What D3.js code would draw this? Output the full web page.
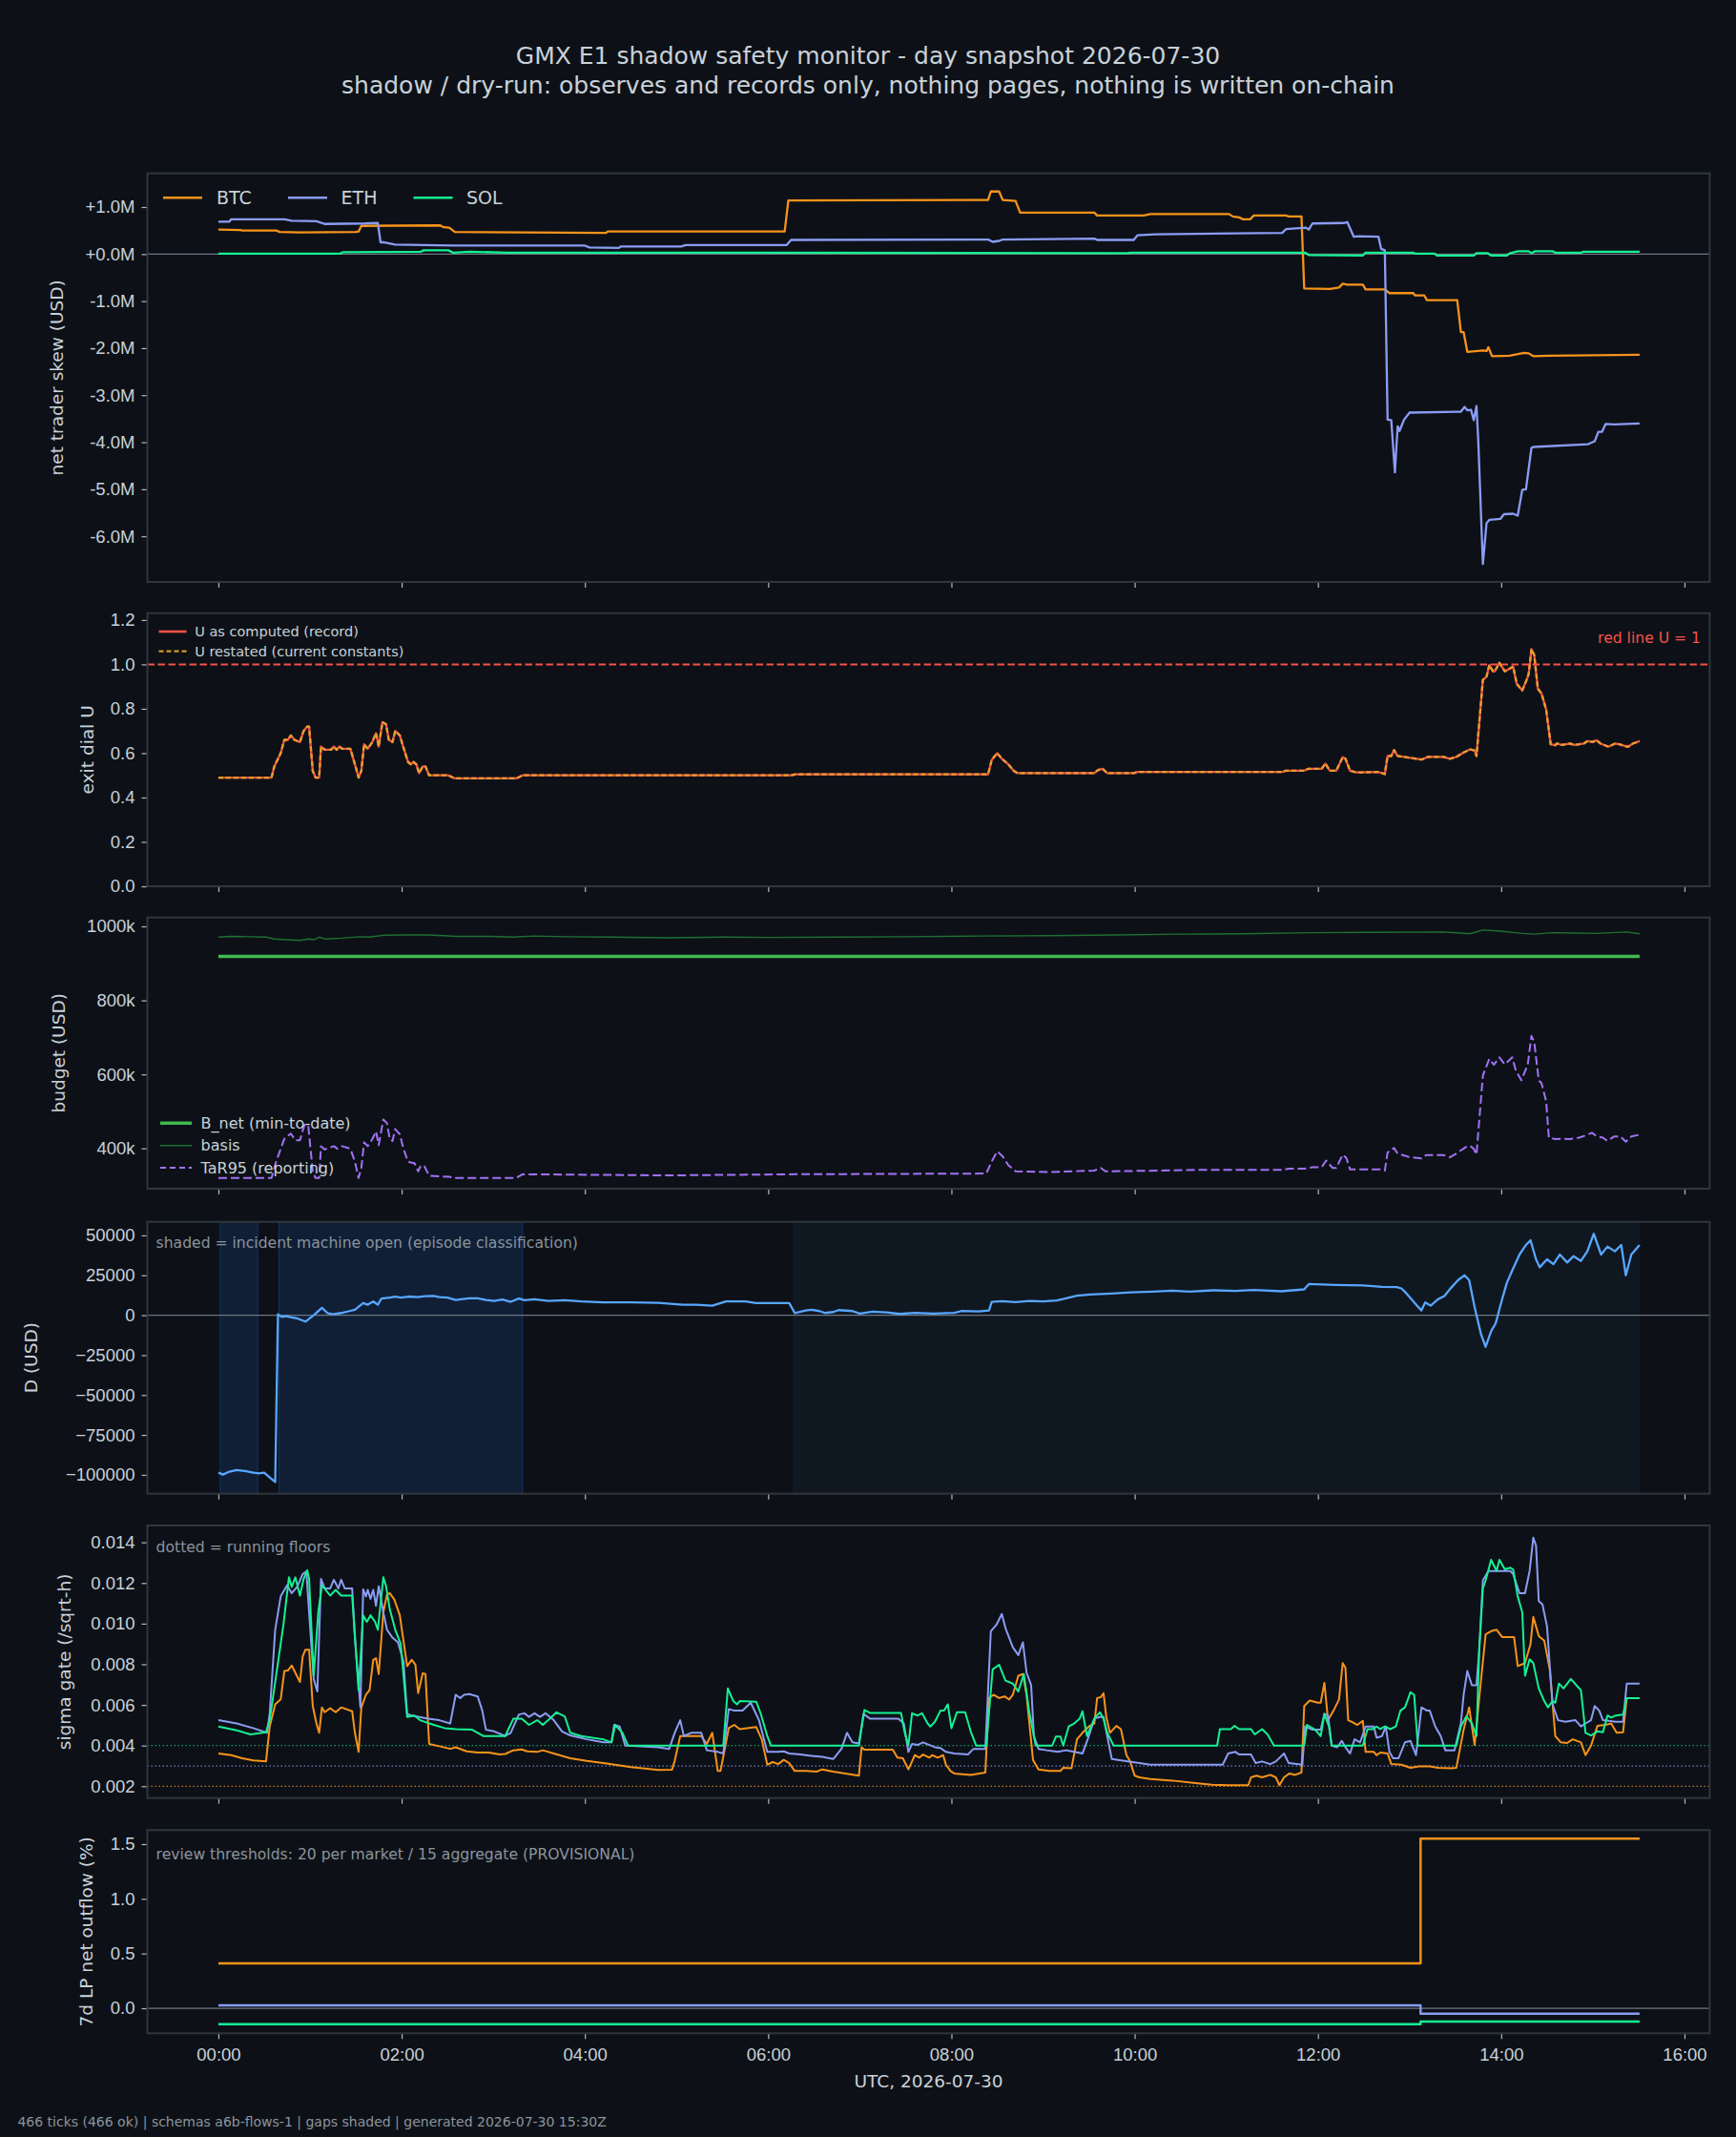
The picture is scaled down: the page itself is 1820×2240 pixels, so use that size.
<!DOCTYPE html>
<html>
<head>
<meta charset="utf-8">
<script src="https://cdn.jsdelivr.net/npm/d3@7"></script>
<style>
  html, body { margin: 0; padding: 0; background: #0d1117; }
  svg { display: block; font-family: "DejaVu Sans", sans-serif; }
</style>
</head>
<body>
<svg id="chart" width="1820" height="2240"></svg>
<script>
// ---- data (time in hours since 00:00 UTC) ----

// panel 1: net trader skew, millions USD
const skewBtc = [[0,0.52],[0.24,0.51],[0.26,0.50],[0.63,0.50],[0.67,0.47],[0.89,0.46],[1.50,0.47],[1.53,0.48],[1.56,0.60],[2.42,0.61],[2.46,0.57],[2.52,0.56],[2.58,0.47],[4.23,0.45],[4.25,0.48],[5.6,0.48],[6.18,0.48],[6.22,1.14],[8.40,1.15],[8.43,1.33],[8.52,1.33],[8.56,1.15],[8.70,1.13],[8.75,0.88],[9.56,0.88],[9.59,0.82],[10.10,0.82],[10.17,0.85],[11.03,0.85],[11.07,0.80],[11.14,0.78],[11.18,0.74],[11.26,0.74],[11.30,0.82],[11.65,0.82],[11.68,0.80],[11.82,0.80],[11.85,-0.73],[12.13,-0.74],[12.23,-0.71],[12.27,-0.63],[12.32,-0.65],[12.49,-0.65],[12.52,-0.75],[12.73,-0.75],[12.78,-0.83],[13.04,-0.83],[13.06,-0.88],[13.16,-0.88],[13.19,-0.98],[13.52,-0.98],[13.56,-1.66],[13.59,-1.66],[13.63,-2.08],[13.80,-2.05],[13.84,-2.06],[13.86,-1.98],[13.90,-2.17],[14.09,-2.16],[14.25,-2.10],[14.30,-2.11],[14.35,-2.17],[14.52,-2.16],[15.51,-2.14]];
const skewEth = [[0,0.69],[0.12,0.69],[0.14,0.74],[0.72,0.74],[0.80,0.71],[1.07,0.70],[1.16,0.64],[1.60,0.65],[1.74,0.66],[1.77,0.25],[1.80,0.25],[1.93,0.20],[2.56,0.18],[4.00,0.18],[4.05,0.14],[4.37,0.13],[4.39,0.16],[5.05,0.16],[5.10,0.19],[6.20,0.19],[6.25,0.30],[8.40,0.31],[8.45,0.26],[8.52,0.28],[8.56,0.31],[9.56,0.33],[9.59,0.30],[9.99,0.30],[10.03,0.40],[10.22,0.42],[11.61,0.45],[11.65,0.53],[11.87,0.56],[11.90,0.52],[11.94,0.65],[12.28,0.66],[12.32,0.68],[12.39,0.37],[12.44,0.38],[12.66,0.37],[12.69,0.11],[12.73,0.08],[12.76,-3.52],[12.80,-3.53],[12.84,-4.64],[12.87,-3.66],[12.89,-3.76],[12.94,-3.52],[13.00,-3.37],[13.56,-3.35],[13.60,-3.25],[13.63,-3.32],[13.67,-3.31],[13.70,-3.53],[13.73,-3.23],[13.75,-3.99],[13.80,-6.59],[13.84,-5.72],[13.87,-5.65],[13.99,-5.63],[14.03,-5.53],[14.13,-5.52],[14.18,-5.56],[14.23,-5.01],[14.27,-5.00],[14.33,-4.12],[14.35,-4.10],[14.95,-4.04],[15.02,-3.98],[15.06,-3.78],[15.10,-3.78],[15.14,-3.61],[15.23,-3.62],[15.51,-3.60]];
const skewSol = [[0,0.01],[1.33,0.01],[1.36,0.04],[2.21,0.05],[2.24,0.08],[2.51,0.08],[2.56,0.03],[2.74,0.05],[3.16,0.03],[6.0,0.03],[9.92,0.02],[9.95,0.03],[11.86,0.03],[11.90,-0.02],[12.49,-0.03],[12.52,0.03],[13.04,0.03],[13.06,0.01],[13.27,0.01],[13.30,-0.03],[13.70,-0.03],[13.73,0.02],[13.85,0.02],[13.89,-0.03],[14.06,-0.03],[14.10,0.02],[14.18,0.06],[14.30,0.06],[14.33,0.02],[14.37,0.06],[14.56,0.06],[14.59,0.03],[14.87,0.03],[14.90,0.05],[15.51,0.05]];

// panel 2: exit dial U
const uRecord = [[0,0.49],[0.58,0.49],[0.61,0.54],[0.68,0.60],[0.72,0.66],[0.76,0.66],[0.79,0.68],[0.83,0.66],[0.89,0.65],[0.93,0.70],[0.97,0.72],[0.99,0.72],[1.03,0.52],[1.06,0.49],[1.10,0.49],[1.12,0.63],[1.16,0.615],[1.23,0.615],[1.26,0.63],[1.29,0.615],[1.32,0.63],[1.35,0.62],[1.44,0.62],[1.49,0.55],[1.53,0.49],[1.56,0.52],[1.59,0.64],[1.63,0.62],[1.68,0.65],[1.72,0.69],[1.75,0.63],[1.79,0.74],[1.83,0.73],[1.86,0.66],[1.90,0.65],[1.93,0.70],[1.98,0.68],[2.02,0.625],[2.07,0.56],[2.10,0.55],[2.13,0.56],[2.16,0.55],[2.19,0.51],[2.23,0.54],[2.26,0.54],[2.30,0.50],[2.51,0.50],[2.58,0.486],[3.25,0.486],[3.32,0.50],[6.25,0.50],[6.30,0.505],[8.40,0.505],[8.44,0.57],[8.50,0.60],[8.55,0.575],[8.62,0.55],[8.68,0.52],[8.72,0.51],[9.56,0.51],[9.60,0.524],[9.65,0.529],[9.70,0.51],[9.99,0.51],[10.03,0.515],[11.61,0.515],[11.65,0.521],[11.85,0.521],[11.89,0.529],[12.04,0.529],[12.08,0.553],[12.13,0.521],[12.20,0.521],[12.27,0.582],[12.30,0.575],[12.35,0.521],[12.42,0.513],[12.66,0.515],[12.73,0.506],[12.76,0.587],[12.80,0.587],[12.83,0.614],[12.87,0.587],[12.99,0.58],[13.13,0.571],[13.20,0.583],[13.37,0.583],[13.44,0.575],[13.51,0.583],[13.59,0.603],[13.66,0.617],[13.71,0.612],[13.73,0.587],[13.80,0.93],[13.84,0.945],[13.87,0.997],[13.91,0.969],[13.93,0.969],[13.98,1.007],[14.04,0.969],[14.13,0.99],[14.17,0.912],[14.23,0.883],[14.28,0.933],[14.30,0.957],[14.33,1.069],[14.36,1.043],[14.40,0.89],[14.44,0.869],[14.49,0.797],[14.54,0.64],[14.59,0.636],[14.61,0.644],[14.66,0.637],[14.75,0.643],[14.80,0.637],[14.90,0.643],[14.94,0.654],[15.0,0.651],[15.04,0.658],[15.08,0.644],[15.17,0.629],[15.24,0.643],[15.29,0.64],[15.38,0.628],[15.44,0.644],[15.51,0.654]];
const uRestated = uRecord.map(d => [d[0], d[1]]);
const redLine = 1.0;

// panel 3: budget, thousands USD
const bNet = [[0,919],[15.51,919]];
const basis = [[0,971],[0.14,973],[0.33,972],[0.52,971],[0.61,966],[0.75,964],[0.89,962],[0.98,966],[1.05,964],[1.10,971],[1.16,966],[1.35,968],[1.54,972],[1.65,971],[1.81,976],[2.05,977],[2.28,977],[2.45,975],[2.60,973],[2.97,973],[3.21,971],[3.44,974],[3.8,972],[4.3,971],[4.91,969],[5.5,971],[6.0,970],[6.8,971],[7.5,972],[8.3,974],[9.07,975],[9.8,977],[10.51,979],[11.2,980],[11.94,983],[12.6,984],[13.37,985],[13.66,980],[13.80,990],[13.99,987],[14.23,981],[14.37,979],[14.56,983],[14.8,982],[15.04,981],[15.2,983],[15.37,985],[15.51,980]];
const tar95 = [[0,320],[0.58,320],[0.63,364],[0.72,426],[0.79,440],[0.84,422],[0.89,422],[0.94,464],[0.98,463],[1.03,338],[1.06,320],[1.10,320],[1.12,406],[1.16,397],[1.26,406],[1.30,399],[1.35,406],[1.44,399],[1.49,364],[1.53,320],[1.56,347],[1.59,416],[1.63,406],[1.68,425],[1.72,446],[1.75,409],[1.80,478],[1.84,468],[1.87,425],[1.90,420],[1.93,452],[1.98,438],[2.02,399],[2.07,364],[2.10,362],[2.14,360],[2.18,338],[2.21,354],[2.25,351],[2.30,326],[2.52,323],[2.58,320],[3.25,320],[3.32,330],[4.91,327],[6.3,330],[8.38,332],[8.44,365],[8.50,392],[8.56,378],[8.62,355],[8.70,338],[9.07,336],[9.56,340],[9.63,347],[9.68,338],[9.99,339],[10.75,342],[11.61,342],[11.68,345],[11.85,345],[11.94,349],[12.04,349],[12.09,367],[12.16,347],[12.20,347],[12.27,383],[12.31,374],[12.35,343],[12.68,343],[12.73,340],[12.76,389],[12.83,401],[12.87,386],[12.99,377],[13.13,373],[13.18,382],[13.37,382],[13.44,376],[13.51,386],[13.61,403],[13.66,407],[13.70,399],[13.73,383],[13.80,597],[13.87,642],[13.92,626],[13.98,646],[14.04,627],[14.12,646],[14.16,610],[14.22,584],[14.29,627],[14.33,704],[14.36,688],[14.41,584],[14.44,576],[14.49,528],[14.52,429],[14.59,425],[14.66,426],[14.75,425],[14.85,429],[14.92,435],[14.99,442],[15.04,433],[15.11,429],[15.16,420],[15.23,432],[15.30,432],[15.36,418],[15.42,432],[15.51,437]];

// panel 4: D, thousands USD, plus incident episodes
const dUsdK = [[0,-98.6],[0.05,-99.8],[0.11,-98.2],[0.20,-97.0],[0.29,-97.6],[0.38,-98.6],[0.44,-99.0],[0.50,-98.6],[0.56,-101.6],[0.62,-104.5],[0.65,0.6],[0.69,-1.0],[0.74,-0.6],[0.80,-1.4],[0.86,-2.0],[0.95,-4.0],[1.04,0],[1.13,4.6],[1.19,1.4],[1.25,0.6],[1.34,1.4],[1.43,2.6],[1.49,3.4],[1.58,7.6],[1.63,6.6],[1.69,8.6],[1.74,6.6],[1.78,10.5],[1.87,11.0],[1.93,11.7],[1.99,11.0],[2.08,11.7],[2.17,11.3],[2.26,11.9],[2.35,12.1],[2.41,11.3],[2.50,11.0],[2.59,9.6],[2.65,10.0],[2.74,10.6],[2.83,10.6],[2.92,9.6],[3.01,9.0],[3.10,9.8],[3.19,8.4],[3.28,10.4],[3.34,9.4],[3.45,10.0],[3.60,9.0],[3.78,9.4],[3.96,8.6],[4.20,8.0],[4.50,8.0],[4.80,7.8],[5.07,6.6],[5.21,6.6],[5.39,6.0],[5.54,8.6],[5.75,8.6],[5.87,7.6],[6.23,7.6],[6.29,1.4],[6.41,3.0],[6.47,3.4],[6.56,2.6],[6.62,1.4],[6.71,2.0],[6.77,3.2],[6.92,2.6],[7.0,1.0],[7.14,2.2],[7.29,1.8],[7.44,0.8],[7.6,1.5],[7.8,1.0],[8.03,1.5],[8.11,2.6],[8.30,2.4],[8.41,3.0],[8.44,8.4],[8.55,8.8],[8.70,8.2],[8.85,9.0],[9.00,8.6],[9.15,9.2],[9.22,10.1],[9.37,12.2],[9.52,13.0],[9.75,13.6],[9.96,14.3],[10.2,14.8],[10.41,15.4],[10.6,14.8],[10.86,15.6],[11.1,15.2],[11.30,15.8],[11.60,15.0],[11.85,16.2],[11.90,19.5],[12.19,19.0],[12.49,18.6],[12.70,17.8],[12.86,17.6],[12.91,16.8],[12.96,14.0],[13.02,10.0],[13.08,6.0],[13.13,3.0],[13.17,8.0],[13.23,6.0],[13.31,10.0],[13.38,12.0],[13.45,17.0],[13.53,22.0],[13.60,25.0],[13.65,22.0],[13.71,5.0],[13.78,-12.0],[13.83,-19.8],[13.89,-10.0],[13.94,-5.0],[14.00,8.0],[14.06,20.0],[14.12,28.0],[14.20,38.0],[14.27,44.0],[14.32,47.0],[14.38,35.0],[14.42,30.0],[14.50,35.0],[14.57,32.0],[14.64,38.0],[14.72,33.0],[14.79,37.0],[14.87,34.0],[14.94,40.0],[15.01,51.0],[15.09,38.0],[15.16,43.0],[15.24,40.0],[15.31,44.0],[15.36,25.0],[15.42,38.0],[15.51,44.0]];
const incidentSpans = [[0.02,0.43],[0.66,3.32]];
const quietSpans = [[6.28,15.5]];

// panel 5: sigma gate, in units of 1e-3 /sqrt-h
const sigmaBtc = [[0,3.61],[0.14,3.53],[0.26,3.38],[0.38,3.27],[0.52,3.22],[0.56,4.94],[0.62,6.03],[0.68,6.27],[0.72,7.67],[0.76,7.70],[0.80,7.94],[0.89,7.13],[0.92,8.38],[0.95,8.72],[0.99,8.72],[1.03,5.95],[1.07,5.09],[1.10,4.63],[1.13,5.88],[1.16,5.64],[1.22,5.84],[1.28,5.64],[1.34,5.88],[1.46,5.69],[1.49,4.63],[1.53,3.69],[1.56,5.88],[1.61,6.5],[1.65,6.73],[1.69,8.22],[1.72,8.30],[1.75,7.52],[1.80,10.56],[1.84,11.42],[1.87,11.5],[1.92,11.19],[1.98,10.41],[2.02,9.16],[2.06,7.91],[2.11,8.22],[2.15,7.98],[2.18,6.58],[2.23,7.56],[2.26,7.52],[2.30,4.08],[2.41,3.97],[2.53,3.84],[2.59,3.92],[2.71,3.72],[2.83,3.66],[2.95,3.66],[3.07,3.56],[3.13,3.59],[3.22,3.77],[3.31,3.81],[3.37,3.72],[3.48,3.69],[3.54,3.77],[3.66,3.61],[3.84,3.38],[4.02,3.25],[4.20,3.14],[4.38,3.03],[4.50,2.94],[4.68,2.86],[4.80,2.80],[4.95,2.81],[4.98,3.25],[5.04,4.47],[5.27,4.47],[5.33,4.08],[5.39,4.63],[5.45,2.75],[5.48,2.75],[5.53,3.92],[5.57,4.86],[5.63,5.02],[5.69,4.81],[5.87,4.91],[5.93,4.31],[5.99,3.06],[6.05,3.19],[6.11,3.09],[6.17,3.30],[6.23,3.14],[6.29,2.75],[6.41,2.75],[6.53,2.72],[6.59,2.83],[6.71,2.72],[6.99,2.52],[7.02,3.92],[7.05,3.80],[7.36,3.80],[7.41,3.41],[7.47,3.38],[7.53,2.83],[7.57,3.22],[7.60,3.53],[7.65,3.41],[7.69,3.56],[7.76,3.41],[7.79,3.53],[7.85,3.41],[7.91,3.53],[7.94,3.06],[7.99,2.75],[8.03,2.63],[8.21,2.56],[8.37,2.67],[8.41,6.34],[8.46,6.5],[8.52,6.34],[8.58,6.42],[8.63,6.27],[8.67,6.5],[8.73,7.44],[8.78,7.52],[8.82,6.5],[8.89,3.30],[8.95,2.83],[9.07,2.75],[9.19,2.75],[9.22,2.91],[9.31,2.88],[9.37,4.31],[9.43,4.63],[9.50,4.94],[9.56,5.09],[9.59,6.34],[9.63,6.38],[9.66,6.58],[9.69,5.41],[9.73,4.63],[9.80,4.97],[9.85,4.81],[9.91,3.53],[9.95,3.22],[10.00,2.52],[10.05,2.44],[10.17,2.36],[10.41,2.28],[10.66,2.16],[10.84,2.08],[11.02,2.05],[11.24,2.05],[11.27,2.44],[11.33,2.52],[11.39,2.44],[11.48,2.56],[11.54,2.44],[11.58,2.05],[11.63,2.44],[11.69,2.63],[11.75,2.56],[11.82,2.67],[11.85,5.95],[11.91,6.22],[12.00,6.11],[12.03,6.11],[12.07,7.09],[12.11,5.25],[12.17,5.72],[12.23,6.27],[12.27,8.06],[12.30,7.83],[12.33,5.25],[12.37,5.17],[12.43,5.02],[12.49,5.22],[12.52,3.69],[12.61,3.69],[12.64,3.53],[12.68,3.66],[12.76,3.61],[12.80,3.09],[12.91,3.06],[13.01,2.91],[13.10,2.98],[13.22,2.98],[13.31,2.91],[13.46,2.88],[13.51,2.91],[13.59,4.78],[13.65,5.88],[13.71,4.03],[13.76,6.34],[13.83,9.47],[13.89,9.63],[13.95,9.70],[14.01,9.34],[14.14,9.34],[14.18,7.91],[14.26,8.06],[14.32,9.0],[14.35,10.33],[14.41,9.39],[14.47,9.16],[14.53,7.75],[14.59,4.47],[14.65,4.16],[14.72,4.13],[14.78,4.31],[14.87,4.16],[14.92,3.53],[14.98,4.0],[15.05,4.97],[15.14,5.02],[15.20,5.09],[15.26,4.63],[15.33,4.66],[15.37,6.34],[15.51,6.34]];
const sigmaEth = [[0,5.25],[0.20,5.09],[0.38,4.86],[0.53,4.63],[0.56,5.56],[0.62,9.70],[0.68,11.34],[0.75,11.89],[0.80,11.5],[0.86,11.81],[0.92,12.44],[0.96,12.56],[0.99,10.56],[1.04,7.28],[1.08,6.66],[1.12,12.2],[1.16,11.73],[1.22,11.73],[1.26,12.16],[1.31,11.73],[1.34,12.16],[1.38,11.73],[1.46,11.73],[1.49,9.31],[1.55,5.88],[1.58,11.69],[1.61,11.34],[1.63,11.66],[1.66,11.22],[1.69,11.66],[1.72,10.88],[1.75,11.84],[1.80,10.56],[1.84,9.70],[1.90,9.31],[1.96,9.08],[2.02,8.14],[2.06,5.56],[2.11,5.48],[2.29,5.33],[2.41,5.25],[2.53,5.09],[2.59,6.5],[2.64,6.34],[2.68,6.5],[2.74,6.53],[2.83,6.42],[2.88,5.72],[2.92,4.78],[3.01,4.70],[3.13,4.47],[3.19,4.63],[3.28,5.53],[3.34,5.59],[3.39,5.41],[3.45,5.59],[3.51,5.41],[3.57,5.59],[3.66,5.25],[3.75,4.70],[3.84,4.5],[4.02,4.31],[4.20,4.16],[4.29,4.16],[4.32,5.02],[4.38,4.94],[4.44,4.0],[4.56,3.97],[4.80,3.92],[4.92,3.84],[4.98,4.63],[5.04,5.25],[5.08,4.47],[5.16,4.63],[5.27,4.63],[5.33,3.77],[5.45,3.69],[5.51,3.61],[5.57,5.80],[5.63,5.72],[5.72,5.72],[5.81,6.11],[5.90,5.25],[5.99,3.69],[6.11,3.69],[6.17,3.72],[6.23,3.61],[6.35,3.56],[6.47,3.5],[6.59,3.45],[6.71,3.34],[6.80,3.84],[6.86,4.63],[6.92,4.16],[6.99,4.10],[7.04,5.56],[7.11,5.33],[7.42,5.33],[7.48,5.09],[7.53,3.69],[7.57,4.08],[7.63,4.03],[7.69,4.16],[7.76,4.03],[7.82,3.92],[7.88,3.88],[7.94,3.69],[8.03,3.61],[8.18,3.56],[8.24,3.84],[8.37,3.84],[8.43,9.63],[8.49,9.94],[8.55,10.48],[8.59,9.78],[8.67,8.84],[8.73,8.45],[8.78,9.08],[8.82,7.59],[8.87,6.97],[8.90,4.47],[8.95,3.84],[9.04,3.77],[9.16,3.69],[9.25,3.77],[9.34,3.69],[9.43,3.61],[9.50,4.47],[9.56,5.33],[9.62,5.41],[9.66,5.41],[9.70,4.47],[9.75,3.34],[9.92,3.22],[10.05,3.14],[10.17,3.06],[10.96,3.06],[11.02,3.61],[11.10,3.69],[11.14,3.56],[11.27,3.56],[11.32,3.14],[11.39,3.22],[11.48,3.09],[11.54,3.22],[11.63,3.61],[11.68,3.14],[11.83,3.06],[11.86,4.94],[11.94,4.78],[12.03,4.78],[12.07,5.56],[12.11,5.48],[12.15,4.0],[12.21,3.92],[12.26,4.23],[12.30,3.92],[12.35,3.61],[12.40,4.31],[12.46,4.16],[12.52,4.94],[12.61,4.94],[12.64,4.39],[12.70,4.47],[12.74,4.94],[12.78,3.69],[12.82,3.38],[12.88,3.38],[12.95,4.16],[13.01,4.23],[13.07,3.53],[13.13,5.88],[13.19,5.72],[13.22,5.72],[13.28,4.94],[13.34,4.47],[13.39,3.77],[13.49,3.77],[13.56,5.09],[13.59,6.5],[13.63,7.67],[13.68,6.97],[13.73,6.97],[13.76,8.69],[13.80,12.13],[13.86,12.59],[14.10,12.59],[14.13,12.44],[14.20,11.5],[14.26,11.5],[14.31,12.59],[14.35,14.23],[14.38,13.84],[14.41,11.11],[14.45,10.95],[14.50,9.86],[14.56,6.03],[14.62,5.25],[14.70,5.17],[14.81,5.25],[14.87,4.94],[14.92,5.09],[14.98,5.25],[15.02,5.95],[15.07,5.72],[15.11,5.25],[15.25,5.17],[15.33,5.17],[15.37,7.05],[15.51,7.05]];
const sigmaSol = [[0,4.94],[0.20,4.75],[0.35,4.55],[0.52,4.66],[0.56,5.25],[0.71,9.94],[0.77,12.28],[0.80,11.81],[0.84,12.28],[0.89,11.38],[0.93,12.2],[0.97,12.63],[0.99,12.2],[1.04,7.44],[1.09,10.56],[1.13,11.89],[1.22,11.38],[1.28,11.66],[1.34,11.38],[1.46,11.38],[1.53,6.73],[1.58,10.41],[1.62,10.09],[1.66,10.41],[1.71,10.09],[1.74,9.70],[1.80,12.28],[1.83,11.84],[1.87,10.72],[1.93,9.70],[1.99,9.0],[2.06,5.41],[2.14,5.48],[2.20,5.25],[2.35,5.02],[2.47,4.86],[2.59,4.81],[2.77,4.78],[2.83,4.63],[2.89,4.47],[3.13,4.47],[3.22,5.33],[3.31,5.33],[3.39,5.02],[3.48,5.25],[3.54,5.02],[3.60,5.25],[3.69,5.64],[3.78,5.44],[3.84,4.63],[3.96,4.47],[4.08,4.39],[4.20,4.31],[4.29,4.16],[4.33,5.02],[4.41,4.63],[4.47,4.0],[5.51,4.0],[5.56,6.81],[5.62,6.19],[5.66,6.03],[5.69,6.19],[5.87,6.16],[5.92,5.56],[5.99,4.47],[6.03,4.0],[6.99,4.0],[7.05,5.75],[7.11,5.61],[7.45,5.61],[7.49,4.63],[7.53,4.0],[7.57,5.59],[7.63,5.48],[7.68,5.59],[7.74,5.09],[7.77,4.94],[7.82,5.17],[7.88,5.72],[7.92,5.72],[7.96,6.03],[8.00,4.86],[8.06,5.64],[8.15,5.64],[8.21,4.70],[8.27,4.0],[8.38,4.0],[8.45,7.75],[8.52,7.98],[8.59,7.2],[8.67,7.05],[8.73,6.66],[8.79,7.52],[8.85,5.64],[8.92,4.0],[9.10,4.0],[9.14,4.44],[9.19,4.44],[9.22,4.0],[9.28,4.94],[9.34,5.09],[9.40,5.33],[9.43,5.69],[9.48,4.47],[9.56,5.33],[9.62,5.64],[9.66,5.33],[9.70,4.63],[9.77,4.0],[10.90,4.0],[10.93,4.81],[11.05,4.81],[11.09,4.97],[11.14,4.81],[11.27,4.81],[11.31,4.55],[11.39,4.81],[11.45,4.55],[11.52,4.0],[11.85,4.0],[11.88,5.02],[11.97,4.78],[12.03,4.47],[12.07,5.56],[12.12,4.94],[12.15,4.0],[12.49,4.0],[12.54,4.81],[12.60,4.81],[12.64,4.94],[12.68,4.81],[12.73,4.94],[12.79,4.81],[12.85,4.94],[12.90,5.72],[12.95,5.88],[13.01,6.63],[13.05,6.5],[13.09,4.0],[13.51,4.0],[13.56,4.94],[13.62,5.44],[13.68,5.09],[13.73,4.47],[13.76,8.69],[13.80,11.73],[13.83,12.13],[13.89,13.14],[13.95,12.59],[13.98,13.14],[14.04,12.67],[14.10,12.75],[14.13,12.67],[14.18,11.34],[14.23,10.56],[14.26,7.44],[14.31,8.25],[14.35,8.06],[14.41,6.81],[14.47,6.19],[14.51,5.88],[14.56,6.19],[14.59,6.11],[14.63,7.05],[14.68,6.81],[14.76,7.28],[14.82,6.97],[14.87,6.73],[14.92,4.63],[14.98,4.5],[15.05,4.70],[15.11,4.66],[15.16,5.48],[15.20,5.38],[15.25,5.48],[15.33,5.53],[15.37,6.34],[15.51,6.34]];
const floorBtc = 2.0, floorEth = 3.0, floorSol = 4.0;

// panel 6: 7d LP net outflow, percent (step series)
const lpBtc = [[0,0.41],[13.12,1.55],[15.51,1.55]];
const lpEth = [[0,0.026],[13.12,-0.05],[15.51,-0.05]];
const lpSol = [[0,-0.146],[13.12,-0.122],[15.51,-0.122]];

const hourTicks = [0, 2, 4, 6, 8, 10, 12, 14, 16];

// ---- styling ----
const BG = '#0d1117', SPINE = '#30363d', TXT = '#c9d1d9', MUTED = '#8b949e', ZERO = '#6e7681';
const C_BTC = '#f7931a', C_ETH = '#8b9cf4', C_SOL = '#14f195';

const svg = d3.select('#chart');
svg.append('rect').attr('width', 1820).attr('height', 2240).attr('fill', BG);

const x = d3.scaleLinear().domain([-0.775, 16.275]).range([154.5, 1792.4]);
const [xl, xr] = x.range();

let clipId = 0;
function makePanel(cfg) {
  const y = d3.scaleLinear().domain(cfg.domain).range([cfg.bottom, cfg.top]);
  const g = svg.append('g');
  const id = 'clip' + (clipId++);
  g.append('clipPath').attr('id', id).append('rect')
    .attr('x', xl).attr('y', cfg.top).attr('width', xr - xl).attr('height', cfg.bottom - cfg.top);
  const plot = g.append('g').attr('clip-path', `url(#${id})`);

  // y axis
  const ya = g.append('g').attr('transform', `translate(${xl},0)`)
    .call(d3.axisLeft(y).tickValues(cfg.ticks).tickFormat(cfg.fmt).tickSize(6).tickPadding(7));
  ya.select('.domain').remove();
  ya.selectAll('line').attr('stroke', '#b1bac4').attr('stroke-width', 1.2);
  ya.selectAll('text').attr('fill', TXT).style('font-size', '18.5px');

  // x axis ticks on every panel
  const xa = g.append('g').attr('transform', `translate(0,${cfg.bottom})`)
    .call(d3.axisBottom(x).tickValues(hourTicks).tickSize(6).tickPadding(10)
      .tickFormat(cfg.xlabels ? (d => String(d).padStart(2, '0') + ':00') : ''));
  xa.select('.domain').remove();
  xa.selectAll('line').attr('stroke', '#b1bac4').attr('stroke-width', 1.2);
  xa.selectAll('text').attr('fill', TXT).style('font-size', '18.5px');

  g.append('text')
    .attr('transform', `translate(${cfg.labelX},${(cfg.top + cfg.bottom) / 2}) rotate(-90)`)
    .attr('text-anchor', 'middle').attr('dominant-baseline', 'middle')
    .attr('fill', TXT).style('font-size', '18.5px').text(cfg.label);

  return { g, y, plot, cfg };
}

function spines(p) {
  p.g.append('rect').attr('x', xl).attr('y', p.cfg.top)
    .attr('width', xr - xl).attr('height', p.cfg.bottom - p.cfg.top)
    .attr('fill', 'none').attr('stroke', SPINE).attr('stroke-width', 2);
}

function drawLine(p, data, color, width, dash, curve) {
  const line = d3.line().x(d => x(d[0])).y(d => p.y(d[1])).curve(curve || d3.curveLinear);
  p.plot.append('path').datum(data).attr('d', line)
    .attr('fill', 'none').attr('stroke', color).attr('stroke-width', width)
    .attr('stroke-linejoin', 'round').attr('stroke-dasharray', dash || null);
}

function hline(p, v, color, width, dash, opacity) {
  p.plot.append('line').attr('x1', xl).attr('x2', xr).attr('y1', p.y(v)).attr('y2', p.y(v))
    .attr('stroke', color).attr('stroke-width', width).attr('stroke-dasharray', dash || null)
    .attr('opacity', opacity == null ? 1 : opacity);
}

function legend(p, items, x0, y0, rowH, handleLen, fontSize) {
  items.forEach((it, i) => {
    const yy = y0 + i * rowH;
    p.g.append('line').attr('x1', x0).attr('x2', x0 + handleLen).attr('y1', yy).attr('y2', yy)
      .attr('stroke', it.color).attr('stroke-width', it.width).attr('stroke-dasharray', it.dash || null);
    p.g.append('text').attr('x', x0 + handleLen + fontSize * 0.6).attr('y', yy)
      .attr('dominant-baseline', 'central').attr('fill', TXT).style('font-size', fontSize + 'px').text(it.label);
  });
}

function note(p, txt, yy) {
  p.g.append('text').attr('x', 163.6).attr('y', yy).attr('dominant-baseline', 'central')
    .attr('fill', MUTED).style('font-size', '15.6px').text(txt);
}

// ---- title ----
svg.append('text').attr('x', 910).attr('y', 58.3).attr('text-anchor', 'middle').attr('dominant-baseline', 'central')
  .attr('fill', TXT).style('font-size', '25px').text('GMX E1 shadow safety monitor - day snapshot 2026-07-30');
svg.append('text').attr('x', 910).attr('y', 89.3).attr('text-anchor', 'middle').attr('dominant-baseline', 'central')
  .attr('fill', TXT).style('font-size', '25px').text('shadow / dry-run: observes and records only, nothing pages, nothing is written on-chain');

// ---- panel 1 ----
const p1 = makePanel({ top: 181.7, bottom: 610, domain: [-6.97, 1.716], ticks: [-6, -5, -4, -3, -2, -1, 0, 1],
  fmt: v => (v >= 0 ? '+' : '-') + Math.abs(v).toFixed(1) + 'M', label: 'net trader skew (USD)', labelX: 61 });
hline(p1, 0, ZERO, 1.3);
drawLine(p1, skewBtc, C_BTC, 2.3);
drawLine(p1, skewEth, C_ETH, 2.3);
drawLine(p1, skewSol, C_SOL, 2.3);
spines(p1);
[['BTC', C_BTC, 171, 227], ['ETH', C_ETH, 302, 357.6], ['SOL', C_SOL, 433.5, 489]].forEach(([lab, col, hx, tx]) => {
  p1.g.append('line').attr('x1', hx).attr('x2', hx + 41).attr('y1', 207.3).attr('y2', 207.3)
    .attr('stroke', col).attr('stroke-width', 2.6);
  p1.g.append('text').attr('x', tx).attr('y', 207.3).attr('dominant-baseline', 'central')
    .attr('fill', TXT).style('font-size', '19px').text(lab);
});

// ---- panel 2 ----
const p2 = makePanel({ top: 642.7, bottom: 929, domain: [0, 1.231], ticks: [0, 0.2, 0.4, 0.6, 0.8, 1.0, 1.2],
  fmt: d3.format('.1f'), label: 'exit dial U', labelX: 93 });
hline(p2, redLine, '#f85149', 2, '7.5,3.5');
drawLine(p2, uRecord, '#f85149', 2.3);
drawLine(p2, uRestated, '#e3a02b', 2.3, '5,3');
spines(p2);
legend(p2, [
  { label: 'U as computed (record)', color: '#f85149', width: 2.6 },
  { label: 'U restated (current constants)', color: '#d29922', width: 2.2, dash: '5,3' }
], 166.5, 662, 20.7, 29, 14.5);
p2.g.append('text').attr('x', 1783).attr('y', 669).attr('text-anchor', 'end').attr('dominant-baseline', 'central')
  .attr('fill', '#f85149').style('font-size', '15.6px').text('red line U = 1');

// ---- panel 3 ----
const p3 = makePanel({ top: 961.7, bottom: 1246, domain: [291, 1024], ticks: [400, 600, 800, 1000],
  fmt: v => v + 'k', label: 'budget (USD)', labelX: 62.5 });
drawLine(p3, bNet, '#3fb950', 3.4);
drawLine(p3, basis, '#1f6f33', 1.4);
drawLine(p3, tar95, '#a371f7', 2, '9,4');
spines(p3);
legend(p3, [
  { label: 'B_net (min-to-date)', color: '#3fb950', width: 3.4 },
  { label: 'basis', color: '#1f6f33', width: 1.6 },
  { label: 'TaR95 (reporting)', color: '#a371f7', width: 2, dash: '6,4' }
], 168, 1177.3, 23.4, 33, 16);

// ---- panel 4 ----
const p4 = makePanel({ top: 1280.7, bottom: 1565.7, domain: [-111.8, 58.5], ticks: [-100, -75, -50, -25, 0, 25, 50],
  fmt: v => (v < 0 ? '\u2212' : '') + Math.abs(v * 1000), label: 'D (USD)', labelX: 34.4 });
incidentSpans.forEach(s => {
  p4.plot.append('rect').attr('x', x(s[0])).attr('y', 1280.7).attr('width', x(s[1]) - x(s[0])).attr('height', 285)
    .attr('fill', '#1f6feb').attr('fill-opacity', 0.15).attr('stroke', '#1f6feb').attr('stroke-opacity', 0.3);
});
quietSpans.forEach(s => {
  p4.plot.append('rect').attr('x', x(s[0])).attr('y', 1280.7).attr('width', x(s[1]) - x(s[0])).attr('height', 285)
    .attr('fill', '#58a6ff').attr('fill-opacity', 0.04).attr('stroke', '#58a6ff').attr('stroke-opacity', 0.08);
});
hline(p4, 0, ZERO, 1.3);
drawLine(p4, dUsdK, '#58a6ff', 2.3);
spines(p4);
note(p4, 'shaded = incident machine open (episode classification)', 1303.3);

// ---- panel 5 ----
const p5 = makePanel({ top: 1599, bottom: 1884.7, domain: [1.42, 14.83], ticks: [2, 4, 6, 8, 10, 12, 14],
  fmt: v => (v / 1000).toFixed(3), label: 'sigma gate (/sqrt-h)', labelX: 69 });
hline(p5, floorSol, C_SOL, 1.2, '1.5,2.5', 0.8);
hline(p5, floorEth, C_ETH, 1.2, '1.5,2.5', 0.8);
hline(p5, floorBtc, C_BTC, 1.2, '1.5,2.5', 0.8);
drawLine(p5, sigmaBtc, C_BTC, 2);
drawLine(p5, sigmaEth, C_ETH, 2);
drawLine(p5, sigmaSol, C_SOL, 2);
spines(p5);
note(p5, 'dotted = running floors', 1622.3);

// ---- panel 6 ----
const p6 = makePanel({ top: 1918.3, bottom: 2131.3, domain: [-0.229, 1.628], ticks: [0, 0.5, 1.0, 1.5],
  fmt: d3.format('.1f'), label: '7d LP net outflow (%)', labelX: 92, xlabels: true });
hline(p6, 0, ZERO, 1.3);
drawLine(p6, lpBtc, C_BTC, 2.4, null, d3.curveStepAfter);
drawLine(p6, lpEth, C_ETH, 2.4, null, d3.curveStepAfter);
drawLine(p6, lpSol, C_SOL, 2.4, null, d3.curveStepAfter);
spines(p6);
note(p6, 'review thresholds: 20 per market / 15 aggregate (PROVISIONAL)', 1944.3);

svg.append('text').attr('x', (xl + xr) / 2).attr('y', 2181).attr('text-anchor', 'middle').attr('dominant-baseline', 'central')
  .attr('fill', TXT).style('font-size', '18.5px').text('UTC, 2026-07-30');
svg.append('text').attr('x', 18.4).attr('y', 2224).attr('dominant-baseline', 'central')
  .attr('fill', MUTED).style('font-size', '14px')
  .text('466 ticks (466 ok) | schemas a6b-flows-1 | gaps shaded | generated 2026-07-30 15:30Z');
</script>
</body>
</html>
